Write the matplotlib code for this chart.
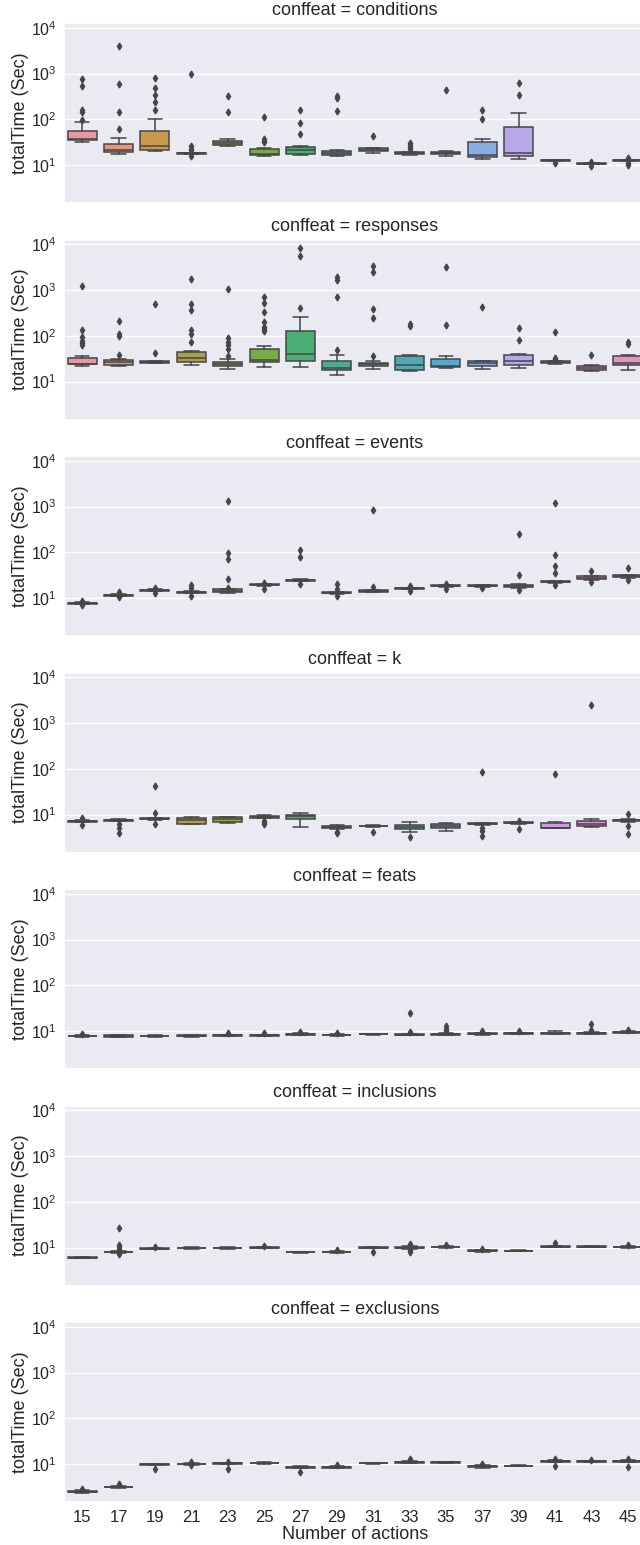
import colorsys
import numpy as np
import matplotlib
matplotlib.use("Agg")
import matplotlib.pyplot as plt
import seaborn as sns

# -------------------------------
# Data
# box tuples: (median, q1, q3, whisker low, whisker high)
# -------------------------------
actions = [15, 17, 19, 21, 23, 25, 27, 29, 31, 33, 35, 37, 39, 41, 43, 45]
conffeats = ["conditions", "responses", "events", "k", "feats", "inclusions", "exclusions"]

conditions_box = [
    (37, 36, 57, 32, 87), (21.7, 19.3, 28.8, 17.7, 39), (26.5, 21.7, 55.6, 20.3, 103),
    (18, 17.6, 18.4, 17.2, 18.8), (30.3, 27, 33, 25.6, 37), (17.4, 16.3, 22.4, 16, 23.2),
    (21, 17.7, 24.8, 16.6, 26.5), (18.3, 16.6, 20.6, 16, 21.3), (21.3, 19.9, 23.2, 18.3, 24),
    (18, 17.1, 18.9, 16.6, 19.6), (18.3, 17.1, 19.6, 16, 20.6), (16.8, 14.7, 31.3, 13.3, 37),
    (18.6, 16, 69, 13.5, 135), (12.7, 12.4, 12.9, 12.2, 13.1), (10.7, 10.5, 10.9, 10.3, 11.0),
    (12.7, 12.4, 12.9, 12.2, 13.1),
]
conditions_fliers = [
    [778, 546, 162, 147, 98], [3980, 594, 142, 62.5], [790, 485, 347, 240, 163],
    [980, 25.6, 23, 21, 15.5], [324, 142], [111, 37.8, 34, 31.4], [157, 83, 48.5],
    [330, 298, 155], [43], [30.3, 27.4, 24.8, 22.4], [445], [157, 102], [625, 347],
    [11.1], [11.4, 9.7], [14.2, 11, 9.9],
]

responses_box = [
    (24.2, 23.8, 33.3, 21.5, 36), (26.3, 23.4, 29.6, 22.3, 31.6), (26.8, 25.5, 27.7, 25, 28.6),
    (32, 27.2, 43.5, 22.6, 45.6), (23.8, 21.9, 26.3, 19.2, 31.6), (30, 26.3, 51.3, 21.2, 59.5),
    (40, 28.6, 128, 20.9, 255), (20.2, 18.2, 28.1, 14, 38), (23.8, 21.9, 25.9, 18.8, 28.1),
    (23, 18.2, 36, 17.3, 38), (21.9, 20.9, 31.6, 19.5, 35.6), (25, 22.3, 28.1, 18.8, 28.6),
    (28.6, 23, 38, 19.8, 39.3), (26.8, 25.5, 27.7, 24.6, 28), (20.2, 17.9, 21.5, 17, 23),
    (25.9, 22.6, 37, 18.2, 39),
]
responses_fliers = [
    [1220, 137, 93.5, 76.5, 69, 62.7], [208, 112, 100, 39], [497, 42],
    [1760, 497, 373, 135, 110, 71.6], [1070, 90.6, 74, 62.7, 50.5, 35.6],
    [690, 521, 327, 201, 158, 140, 126], [8470, 5480, 413], [1980, 1680, 690, 48],
    [3440, 2460, 386, 246, 35.6], [185, 165], [3270, 176], [435], [149, 83],
    [120, 33, 31], [38.6], [74, 67],
]

events_box = [
    (7.8, 7.6, 7.95, 7.4, 8.1), (11.6, 11.3, 11.8, 11.0, 12.1), (14.9, 14.6, 15.2, 14.2, 15.5),
    (13.5, 13.2, 13.8, 12.8, 14.1), (14.2, 13.3, 15.4, 13.0, 15.8), (19.5, 19.1, 19.9, 18.6, 20.3),
    (24.6, 24.1, 25.0, 23.6, 25.5), (13.0, 12.7, 13.3, 12.3, 13.6), (14.2, 13.7, 14.7, 13.3, 15.0),
    (16.2, 15.9, 16.5, 15.5, 16.8), (18.8, 18.4, 19.2, 17.9, 19.6), (18.8, 18.4, 19.2, 17.9, 19.6),
    (18.5, 17.6, 19.6, 17.0, 20.0), (22.6, 22.1, 23.1, 21.5, 23.6), (27.2, 25.5, 30.0, 24.5, 31.0),
    (30.0, 28.5, 31.5, 27.5, 32.5),
]
events_fliers = [
    [8.5, 7.1], [13.5, 10.5], [16.2, 12.6], [19.5, 16.8, 11], [1350, 96.8, 71.6, 26.3, 16.8],
    [21.6, 16], [114, 79, 20.8], [20.8, 16, 11], [847, 17.3], [18, 14.2], [20.8, 16], [16.5],
    [250, 31.6, 15.2], [1220, 87, 49.6, 35.5, 19.8], [38.6, 22.3], [45, 24.6],
]

k_box = [
    (7.2, 7.0, 7.4, 6.8, 7.6), (7.5, 7.3, 7.7, 7.1, 7.9), (8.1, 7.9, 8.3, 7.6, 8.6),
    (7.5, 6.3, 8.5, 6.2, 9.0), (7.9, 7.0, 8.8, 6.5, 9.0), (9.0, 8.6, 9.5, 8.3, 10.0),
    (9.4, 7.8, 10.0, 5.3, 10.9), (5.3, 5.0, 5.6, 4.9, 6.0), (5.6, 5.5, 5.7, 5.3, 5.9),
    (5.4, 4.8, 6.05, 4.2, 6.9), (5.65, 5.0, 6.3, 4.4, 6.5), (6.3, 6.1, 6.5, 5.9, 6.7),
    (6.6, 6.4, 6.8, 6.1, 7.0), (5.2, 5.0, 6.7, 5.0, 6.9), (6.35, 5.65, 7.4, 5.3, 8.1),
    (7.5, 7.3, 7.7, 7.0, 8.0),
]
k_fliers = [
    [8.5, 5.9], [6.2, 5.0, 4.0], [41.4, 11, 6.2], [], [], [7.3, 6.5, 6.2], [], [4.2, 3.9],
    [4.2], [3.2], [], [85, 5.0, 4.4, 3.4], [7.2, 4.8], [79], [2460], [10.5, 5.5, 3.7],
]

feats_box = [
    (7.8, 7.7, 7.9, 7.5, 8.1), (7.8, 7.6, 8.0, 7.4, 8.1), (7.8, 7.7, 7.9, 7.5, 8.0),
    (7.9, 7.8, 8.0, 7.6, 8.1), (8.0, 7.9, 8.2, 7.7, 8.4), (8.0, 7.9, 8.1, 7.7, 8.3),
    (8.5, 8.3, 8.7, 8.1, 8.9), (8.2, 8.0, 8.4, 7.8, 8.6), (8.6, 8.5, 8.7, 8.3, 8.8),
    (8.3, 8.2, 8.5, 8.0, 8.7), (8.6, 8.4, 8.8, 8.2, 9.2), (8.75, 8.6, 8.9, 8.4, 9.2),
    (8.9, 8.7, 9.1, 8.5, 9.3), (8.9, 8.7, 9.2, 8.6, 10.0), (9.0, 8.8, 9.2, 8.6, 9.5),
    (9.4, 9.1, 9.7, 8.9, 10.0),
]
feats_fliers = [
    [8.75], [], [], [], [9.0], [8.9], [9.4], [9.0], [], [25, 9.4], [12.6, 11, 10], [10],
    [9.8], [], [14.4, 10.5], [10.7],
]

inclusions_box = [
    (6.05, 5.9, 6.2, 5.8, 6.3), (8.0, 7.8, 8.2, 7.6, 8.4), (9.5, 9.3, 9.7, 9.1, 9.9),
    (9.8, 9.6, 10.0, 9.4, 10.2), (9.8, 9.6, 10.0, 9.4, 10.1), (10.0, 9.8, 10.2, 9.6, 10.4),
    (7.9, 7.8, 8.0, 7.6, 8.1), (8.0, 7.8, 8.2, 7.6, 8.4), (10.0, 9.8, 10.1, 9.6, 10.2),
    (10.0, 9.6, 10.3, 9.3, 10.6), (10.3, 10.1, 10.5, 9.9, 10.7), (8.5, 8.3, 8.7, 8.1, 8.9),
    (8.5, 8.4, 8.6, 8.3, 8.7), (10.5, 10.3, 10.7, 10.1, 10.9), (10.5, 10.4, 10.7, 10.2, 10.8),
    (10.3, 10.1, 10.5, 9.9, 10.7),
]
inclusions_fliers = [
    [], [26.8, 11.4, 10.5, 9.4, 8.6, 7.3], [10.5], [], [], [10.9], [], [9.0], [7.8],
    [12.0, 11.2, 8.9, 8.2], [11.1], [9.4], [], [12.4], [], [11.4],
]

exclusions_box = [
    (2.45, 2.4, 2.55, 2.35, 2.65), (3.15, 3.1, 3.2, 3.0, 3.3), (9.8, 9.6, 10.0, 9.4, 10.2),
    (10.0, 9.8, 10.2, 9.7, 10.4), (10.3, 10.1, 10.5, 9.9, 10.7), (10.5, 10.3, 10.7, 10.1, 10.9),
    (8.5, 8.3, 8.7, 8.1, 8.9), (8.5, 8.3, 8.7, 8.1, 8.9), (10.5, 10.4, 10.6, 10.2, 10.8),
    (11.0, 10.8, 11.2, 10.6, 11.5), (10.9, 10.8, 11.0, 10.6, 11.2), (8.9, 8.6, 9.1, 8.4, 9.4),
    (9.2, 9.1, 9.3, 8.9, 9.5), (11.4, 11.1, 11.7, 10.9, 12.0), (11.4, 11.2, 11.6, 11.0, 11.8),
    (11.4, 11.1, 11.7, 10.9, 12.0),
]
exclusions_fliers = [
    [2.9], [3.7], [7.8], [11.2, 9.5], [11.2, 7.8], [], [6.7], [9.4], [], [12.6], [],
    [10], [], [12.6, 9.0], [12.2], [12.6, 8.8],
]

panels = [
    (conditions_box, conditions_fliers), (responses_box, responses_fliers),
    (events_box, events_fliers), (k_box, k_fliers), (feats_box, feats_fliers),
    (inclusions_box, inclusions_fliers), (exclusions_box, exclusions_fliers),
]

# -------------------------------
# Style
# -------------------------------
sns.set_theme(style="darkgrid")
plt.rcParams["font.family"] = ["Liberation Sans", "DejaVu Sans"]

colors = [sns.desaturate(c, 0.75) for c in sns.husl_palette(len(actions), l=0.7)]
lum = min(colorsys.rgb_to_hls(*c)[1] for c in colors) * 0.6
gray = (lum, lum, lum)
lw = 1.1

# -------------------------------
# Figure
# -------------------------------
W, H = 640, 1545
fig = plt.figure(figsize=(W / 100, H / 100), dpi=100)

for i, (name, (box, fliers)) in enumerate(zip(conffeats, panels)):
    top = 23 + 216.5 * i
    ax = fig.add_axes([64 / W, 1 - (top + 180) / H, 582 / W, 180 / H])

    stats = [dict(med=b[0], q1=b[1], q3=b[2], whislo=b[3], whishi=b[4], fliers=f)
             for b, f in zip(box, fliers)]
    art = ax.bxp(stats, positions=np.arange(len(actions)), widths=0.8, patch_artist=True,
                 boxprops=dict(edgecolor=gray, linewidth=lw),
                 medianprops=dict(color=gray, linewidth=lw),
                 whiskerprops=dict(color=gray, linewidth=lw),
                 capprops=dict(color=gray, linewidth=lw),
                 flierprops=dict(marker="d", markersize=3.5, markerfacecolor=gray,
                                 markeredgecolor=gray, linestyle="none"))
    for patch, c in zip(art["boxes"], colors):
        patch.set_facecolor(c)

    ax.set_yscale("log")
    ax.set_ylim(1.48, 12800)
    ax.set_xlim(-0.5, len(actions) - 0.5)
    ax.set_xticks(np.arange(len(actions)))
    ax.xaxis.grid(False)
    ax.set_ylabel("totalTime (Sec)", fontsize=13, labelpad=1.5)
    ax.set_title(f"conffeat = {name}", fontsize=13)
    ax.tick_params(axis="y", labelsize=11.5, length=0, pad=5)
    ax.tick_params(axis="x", length=0, pad=5.5)
    if i == len(conffeats) - 1:
        ax.set_xticklabels(actions, fontsize=12)
        ax.set_xlabel("Number of actions", fontsize=13, labelpad=1)
    else:
        ax.tick_params(axis="x", labelbottom=False)

fig.savefig("out.png", dpi=100)
